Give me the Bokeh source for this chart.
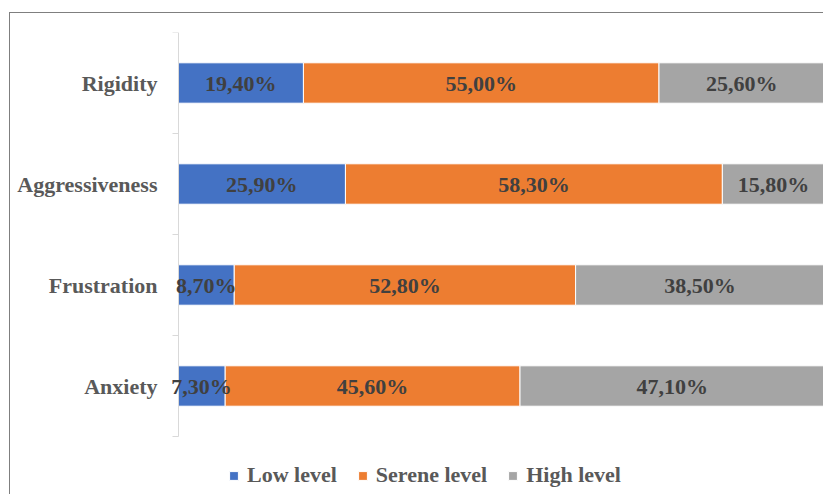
from bokeh.plotting import figure
from bokeh.models import (ColumnDataSource, FixedTicker, Legend, LegendItem, Range1d,
                          LabelSet, LinearAxis)
from bokeh.embed import file_html
from bokeh.resources import INLINE

categories = ["Anxiety", "Frustration", "Aggressiveness", "Rigidity"]
low = [7.3, 8.7, 25.9, 19.4]
serene = [45.6, 52.8, 58.3, 55.0]
high = [47.1, 38.5, 15.8, 25.6]
series = ["Low level", "Serene level", "High level"]
colors = ["#4472C4", "#ED7D31", "#A5A5A5"]

FS = "22px"

pos = [i + 0.5 for i in range(len(categories))]
src = ColumnDataSource(dict(y=pos, low=low, serene=serene, high=high))

# frame reaches a little left of 0 (so small labels are not clipped) and below the
# category band (to hold the legend)
n = len(categories)
p = figure(width=814, height=482, x_range=Range1d(-1.47, 100), y_range=Range1d(-0.584, n),
           output_backend="svg", toolbar_location=None, x_axis_location=None,
           min_border_left=158, min_border_top=19, min_border_bottom=0, min_border_right=0,
           outline_line_color=None)
p.styles = {"border-left": "1px solid #7f7f7f", "border-top": "1px solid #7f7f7f",
            "margin-left": "9px", "margin-top": "12px"}

renderers = p.hbar_stack(["low", "serene", "high"], y="y", height=0.4, fill_color=colors,
                         line_color="white", line_width=1, source=src)

lab_x, lab_y, lab_t = [], [], []
for i, yy in enumerate(pos):
    start = 0.0
    for vals in (low, serene, high):
        v = vals[i]
        lab_x.append(start + v / 2)
        lab_y.append(yy)
        lab_t.append(f"{v:.2f}%".replace(".", ","))
        start += v
lsrc = ColumnDataSource(dict(x=lab_x, y=lab_y, t=lab_t))
labels = LabelSet(x="x", y="y", text="t", source=lsrc, text_font="Liberation Serif",
                  text_font_style="bold", text_font_size=FS, text_color="#404040",
                  text_align="center", text_baseline="middle")
p.add_layout(labels)

p.xgrid.visible = False
p.ygrid.visible = False

# category labels on the frame edge
ax = p.yaxis[0]
ax.ticker = FixedTicker(ticks=pos)
ax.major_label_overrides = {yy: c for yy, c in zip(pos, categories)}
ax.axis_line_color = None
ax.major_tick_line_color = None
ax.minor_tick_line_color = None
ax.major_tick_out = 0
ax.major_tick_in = 0
ax.major_label_standoff = 11
ax.major_label_text_font = "Liberation Serif"
ax.major_label_text_font_style = "bold"
ax.major_label_text_font_size = FS
ax.major_label_text_color = "#595959"

# axis line and category-boundary ticks pinned at x = 0
line_ax = LinearAxis(fixed_location=0, bounds=(0, n),
                     ticker=FixedTicker(ticks=[], minor_ticks=list(range(n + 1))),
                     axis_line_color="#d9d9d9", major_tick_line_color=None,
                     minor_tick_line_color="#d9d9d9", minor_tick_out=6, minor_tick_in=0,
                     major_tick_out=0, major_tick_in=0, major_label_standoff=0)
p.add_layout(line_ax, "left")

legend = Legend(items=[LegendItem(label=s, renderers=[r]) for s, r in zip(series, renderers)],
                orientation="horizontal", location=(60, 7),
                label_text_font="Liberation Serif", label_text_font_style="bold",
                label_text_font_size=FS, label_text_color="#595959",
                glyph_width=11, glyph_height=11, label_standoff=8, spacing=20,
                padding=0, margin=0, border_line_color=None, background_fill_alpha=0)
p.add_layout(legend)

open("out.html", "w").write(file_html(p, INLINE))
